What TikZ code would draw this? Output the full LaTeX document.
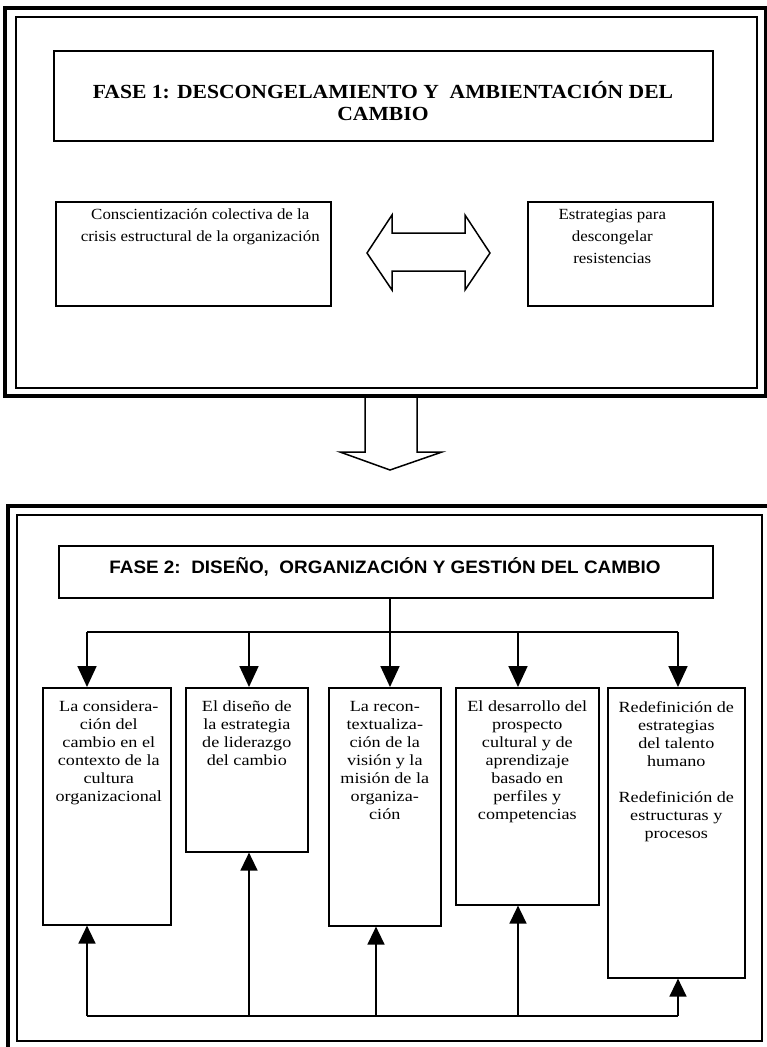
\documentclass[tikz,border=0pt]{standalone}
\usepackage{fontspec}
\setmainfont{Liberation Serif}
\newfontfamily\bodyf[FakeStretch=1.17]{Liberation Serif}
\newfontfamily\bodyg[FakeStretch=1.09]{Liberation Serif}
\newfontfamily\titlef[FakeStretch=1.08]{Liberation Serif}
\newfontfamily\titlesf[FakeStretch=1.05]{Liberation Sans}
\usetikzlibrary{arrows.meta}
\tikzset{
  frameout/.style={draw, line width=3.8pt},
  framein/.style={draw, line width=2.2pt},
  box/.style={draw, line width=1.6pt, inner sep=0pt, anchor=north west},
  txt/.style={font=\bodyf\fontsize{15.5}{18}\selectfont, align=center, inner sep=0pt, anchor=north},
  txtb/.style={font=\bodyg\fontsize{15.5}{22}\selectfont, align=center, inner sep=0pt, anchor=north},
  arr/.style={line width=1.8pt, -{Triangle[length=21pt,width=19pt]}},
  arrb/.style={line width=1.5pt, -{Triangle[length=18pt,width=17pt]}},
  bigarrow/.style={draw, line width=1.5pt, line join=miter}
}
\begin{document}
\begin{tikzpicture}[x=1pt,y=-1pt]
\useasboundingbox (0,0) rectangle (767,1047);
\fill[white] (0,0) rectangle (767,1047);

% ---------- FASE 1 ----------
\draw[frameout] (5,8) rectangle (766,396);
\draw[framein] (16,17) rectangle (757,388);

\node[box, minimum width=659pt, minimum height=90pt] (f1) at (53,50) {};
\node[font=\titlef\bfseries\fontsize{20}{22}\selectfont, align=center, inner sep=0pt] (f1t) at (383,101)
  {FASE 1: DESCONGELAMIENTO Y\ \ AMBIENTACIÓN DEL\\CAMBIO};

\node[box, minimum width=275pt, minimum height=104pt] (c1) at (55,201) {};
\node[txtb] (c1t) at ([xshift=7pt,yshift=-8pt]c1.north)
  {Conscientización colectiva de la\\crisis estructural de la organización};

\node[box, minimum width=185pt, minimum height=104pt] (c2) at (527,201) {};
\node[txtb] (c2t) at ([xshift=-8pt,yshift=-8pt]c2.north)
  {Estrategias para\\descongelar\\resistencias};

% double arrow
\draw[bigarrow] (367,253) -- (392,215) -- (392,233) -- (465,233) -- (465,215) -- (490,253)
  -- (465,290) -- (465,271) -- (392,271) -- (392,290) -- cycle;

% down arrow
\draw[bigarrow] (365,396) -- (365,452) -- (340,452) -- (390,470) -- (442,452) -- (417,452) -- (417,396);

% ---------- FASE 2 ----------
\draw[frameout] (8,506) rectangle (769,1049);
\draw[framein] (17,515) rectangle (762,1041);

\node[box, minimum width=654pt, minimum height=52pt] (f2) at (58,545) {};
\node[font=\titlesf\bfseries\fontsize{18}{20}\selectfont, inner sep=0pt] (f2t) at (385,567)
  {FASE 2:\ \ DISEÑO,\ \ ORGANIZACIÓN Y GESTIÓN DEL CAMBIO};

\node[box, minimum width=128pt, minimum height=237pt] (b1) at (42,687) {};
\node[box, minimum width=122pt, minimum height=164pt] (b2) at (185,687) {};
\node[box, minimum width=112pt, minimum height=238pt] (b3) at (328,687) {};
\node[box, minimum width=143pt, minimum height=217pt] (b4) at (455,687) {};
\node[box, minimum width=137pt, minimum height=290pt] (b5) at (607,687) {};

\node[txt] (b1t) at ([xshift=2pt,yshift=-14pt]b1.north)
  {La considera-\\ción del\\cambio en el\\contexto de la\\cultura\\organizacional};
\node[txt] (b2t) at ([yshift=-14pt]b2.north)
  {El diseño de\\la estrategia\\de liderazgo\\del cambio};
\node[txt] (b3t) at ([yshift=-14pt]b3.north)
  {La recon-\\textualiza-\\ción de la\\visión y la\\misión de la\\organiza-\\ción};
\node[txt] (b4t) at ([yshift=-14pt]b4.north)
  {El desarrollo del\\prospecto\\cultural y de\\aprendizaje\\basado en\\perfiles y\\competencias};
\node[txt] (b5t) at ([yshift=-14pt]b5.north)
  {Redefinición de\\estrategias\\del talento\\humano\\[18pt]Redefinición de\\estructuras y\\procesos};

% top connectors
\coordinate (s0) at (390,632);
\coordinate (j1) at (87,632);
\coordinate (j2) at (249,632);
\coordinate (j3) at (390,632);
\coordinate (j4) at (518,632);
\coordinate (j5) at (678,632);
\draw[line width=1.8pt] (s0 |- f2.south) -- (s0);
\draw[line width=1.8pt] (j1) -- (j5);
\draw[arr] (j1) -- (j1 |- b1.north);
\draw[arr] (j2) -- (j2 |- b2.north);
\draw[arr] (j3) -- (j3 |- b3.north);
\draw[arr] (j4) -- (j4 |- b4.north);
\draw[arr] (j5) -- (j5 |- b5.north);

% bottom connectors
\coordinate (k1) at (87,1016);
\coordinate (k2) at (249,1016);
\coordinate (k3) at (376,1016);
\coordinate (k4) at (518,1016);
\coordinate (k5) at (678,1016);
\draw[line width=1.6pt] (k1) -- (k5);
\draw[arrb] (k1) -- (k1 |- b1.south);
\draw[arrb] (k2) -- (k2 |- b2.south);
\draw[arrb] (k3) -- (k3 |- b3.south);
\draw[arrb] (k4) -- (k4 |- b4.south);
\draw[arrb] (k5) -- (k5 |- b5.south);
\end{tikzpicture}
\end{document}
